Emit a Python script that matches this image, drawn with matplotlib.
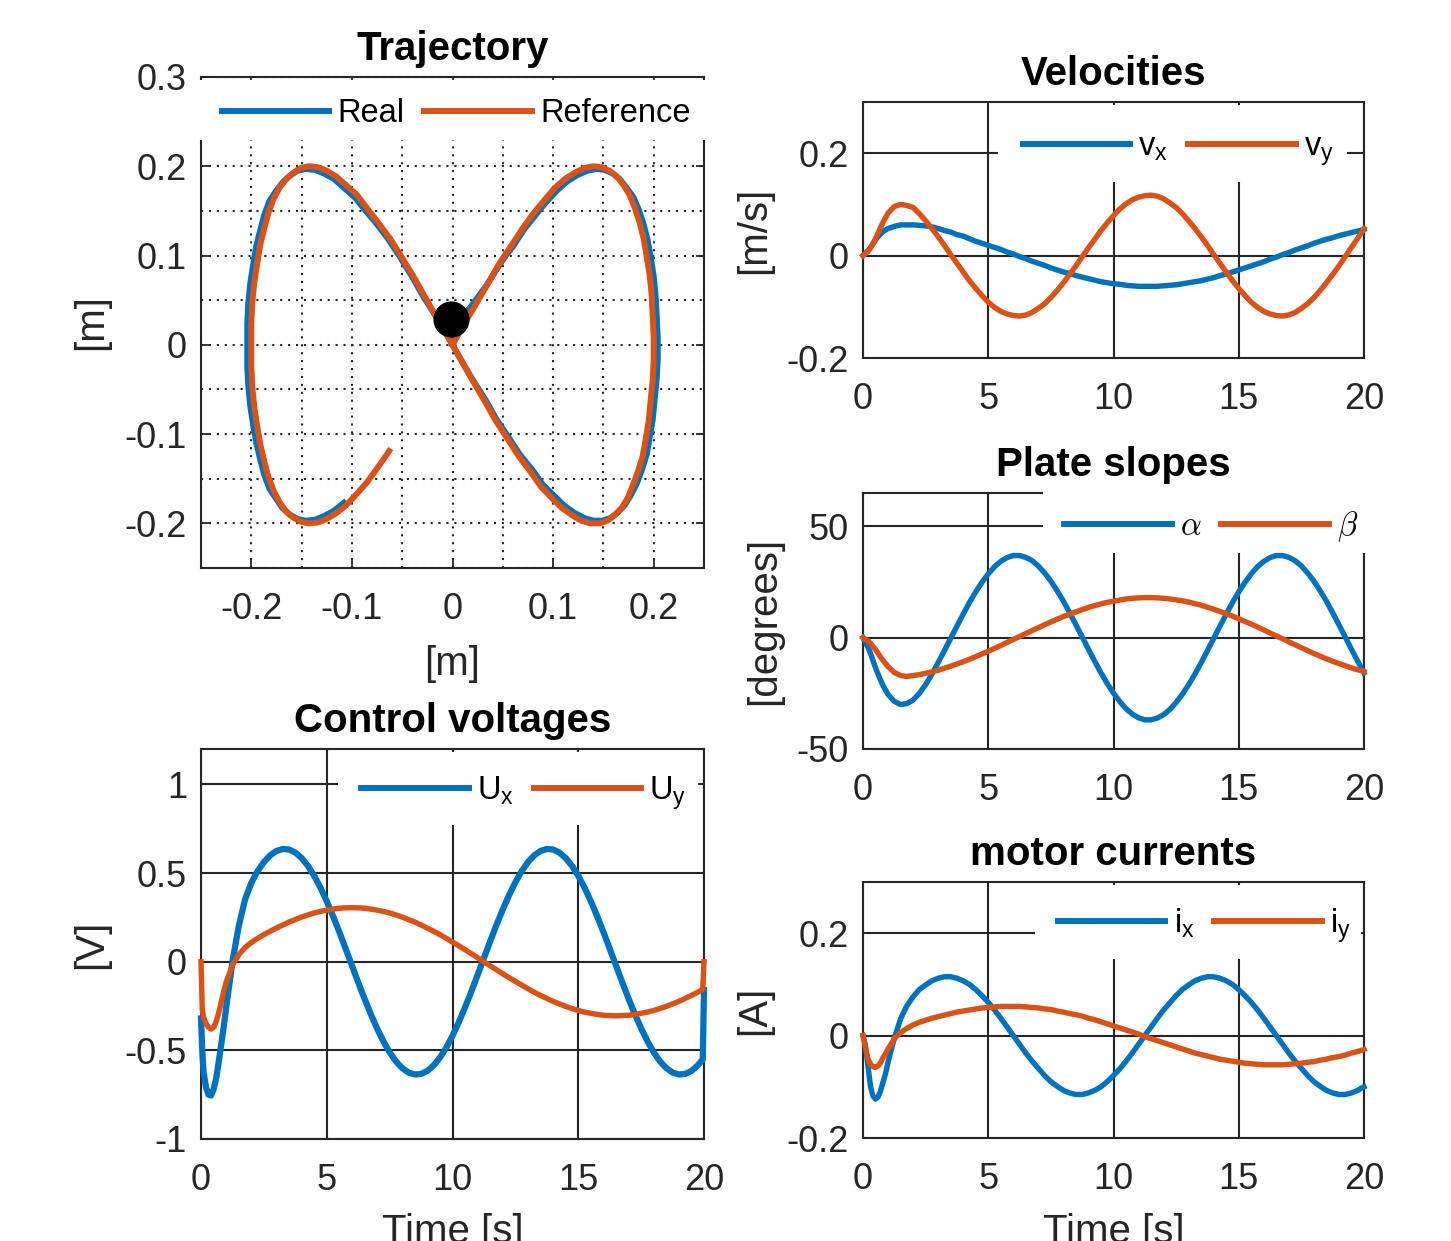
import numpy as np
import matplotlib
matplotlib.use('Agg')
import matplotlib.pyplot as plt
from matplotlib.patches import Rectangle
from matplotlib.ticker import MultipleLocator

plt.rcParams['font.family'] = ['Liberation Sans', 'DejaVu Sans']
plt.rcParams['mathtext.fontset'] = 'custom'
plt.rcParams['mathtext.rm'] = 'Liberation Sans'
plt.rcParams['mathtext.it'] = 'Liberation Sans:italic'
plt.rcParams['axes.unicode_minus'] = False

# ---------------- data ----------------
# time axis [s] shared by the four time plots
t = [0, 0.05, 0.1, 0.2, 0.3, 0.4, 0.5, 0.6, 0.7, 0.8, 0.9, 1.0,
     1.25, 1.5, 1.75, 2.0, 2.25, 2.5, 2.75, 3.0, 3.25, 3.5, 3.75, 4.0, 4.25, 4.5, 4.75, 5.0,
     5.25, 5.5, 5.75, 6.0, 6.25, 6.5, 6.75, 7.0, 7.25, 7.5, 7.75, 8.0, 8.25, 8.5, 8.75, 9.0,
     9.25, 9.5, 9.75, 10.0, 10.25, 10.5, 10.75, 11.0, 11.25, 11.5, 11.75, 12.0, 12.25, 12.5, 12.75, 13.0,
     13.25, 13.5, 13.75, 14.0, 14.25, 14.5, 14.75, 15.0, 15.25, 15.5, 15.75, 16.0, 16.25, 16.5, 16.75, 17.0,
     17.25, 17.5, 17.75, 18.0, 18.25, 18.5, 18.75, 19.0, 19.25, 19.5, 19.75, 19.95, 20.0]

# velocities [m/s]
v_x = [0, 0.002, 0.005, 0.010, 0.016, 0.023, 0.031, 0.037, 0.042, 0.047, 0.050, 0.053,
       0.057, 0.060, 0.060, 0.060, 0.059, 0.058, 0.056, 0.053, 0.049, 0.046, 0.041, 0.038, 0.033, 0.028, 0.024, 0.020,
       0.016, 0.012, 0.007, 0.003, -0.002, -0.006, -0.011, -0.015, -0.019, -0.024, -0.028, -0.032, -0.035, -0.039, -0.042, -0.045,
       -0.048, -0.051, -0.053, -0.055, -0.056, -0.058, -0.059, -0.060, -0.060, -0.060, -0.060, -0.059, -0.058, -0.057, -0.055, -0.053,
       -0.051, -0.049, -0.046, -0.043, -0.039, -0.036, -0.032, -0.028, -0.024, -0.020, -0.016, -0.012, -0.007, -0.003, 0.002, 0.006,
       0.011, 0.015, 0.019, 0.024, 0.028, 0.032, 0.035, 0.039, 0.042, 0.045, 0.048, 0.050, 0.051]
v_y = [0, 0.002, 0.004, 0.008, 0.015, 0.024, 0.033, 0.044, 0.055, 0.065, 0.074, 0.083,
       0.096, 0.100, 0.098, 0.094, 0.082, 0.068, 0.053, 0.037, 0.020, 0.002, -0.015, -0.032, -0.049, -0.064, -0.078, -0.091,
       -0.101, -0.109, -0.114, -0.117, -0.118, -0.116, -0.111, -0.103, -0.094, -0.082, -0.068, -0.053, -0.037, -0.020, -0.002, 0.015,
       0.032, 0.049, 0.064, 0.078, 0.091, 0.101, 0.109, 0.114, 0.117, 0.118, 0.116, 0.111, 0.103, 0.094, 0.082, 0.068,
       0.053, 0.037, 0.020, 0.002, -0.015, -0.032, -0.049, -0.064, -0.078, -0.091, -0.101, -0.109, -0.114, -0.117, -0.118, -0.116,
       -0.111, -0.103, -0.094, -0.082, -0.068, -0.053, -0.037, -0.020, -0.002, 0.016, 0.034, 0.049, 0.053]

# plate slopes [degrees]
alpha = [0, -1.0, -2.0, -4.3, -7.1, -10.3, -13.5, -16.3, -19.1, -21.5, -23.5, -25.5,
         -28.6, -30.0, -29.6, -28.0, -25.0, -21.1, -16.4, -11.2, -5.8, -0.3, 5.2, 10.6, 15.8, 20.6, 24.9, 28.7,
         31.9, 34.3, 36.0, 36.9, 36.9, 36.1, 34.6, 32.2, 29.1, 25.4, 21.1, 16.4, 11.2, 5.8, 0.3, -5.2,
         -10.6, -15.8, -20.6, -24.9, -28.7, -31.9, -34.3, -36.0, -36.9, -36.9, -36.1, -34.6, -32.2, -29.1, -25.4, -21.1,
         -16.4, -11.2, -5.8, -0.3, 5.2, 10.6, 15.8, 20.6, 24.9, 28.7, 31.9, 34.3, 36.0, 36.9, 36.9, 36.1,
         34.6, 32.2, 29.1, 25.4, 21.1, 16.4, 11.2, 5.8, 0.3, -5.2, -10.6, -14.7, -15.8]
beta = [0, -0.4, -0.7, -1.4, -2.5, -3.9, -5.3, -7.0, -8.7, -10.2, -11.6, -13.0,
        -15.6, -17.0, -17.4, -17.0, -16.6, -16.0, -15.3, -14.6, -13.7, -12.8, -11.8, -10.8, -9.7, -8.5, -7.3, -6.1,
        -4.8, -3.5, -2.1, -0.8, 0.5, 1.9, 3.2, 4.5, 5.8, 7.1, 8.3, 9.5, 10.6, 11.6, 12.6, 13.6,
        14.4, 15.2, 15.9, 16.4, 16.9, 17.4, 17.7, 17.9, 18.0, 18.0, 17.9, 17.7, 17.4, 17.0, 16.6, 16.0,
        15.3, 14.6, 13.7, 12.8, 11.8, 10.8, 9.7, 8.5, 7.3, 6.1, 4.8, 3.5, 2.1, 0.8, -0.5, -1.9,
        -3.2, -4.5, -5.8, -7.1, -8.3, -9.5, -10.6, -11.6, -12.6, -13.6, -14.4, -15.0, -15.2]

# control voltages [V]
U_x = [-0.320, -0.500, -0.620, -0.710, -0.750, -0.755, -0.720, -0.660, -0.570, -0.470, -0.370, -0.260,
       0.000, 0.200, 0.350, 0.445, 0.511, 0.562, 0.600, 0.625, 0.636, 0.633, 0.616, 0.585, 0.541, 0.485, 0.418, 0.341,
       0.257, 0.168, 0.074, -0.021, -0.116, -0.208, -0.295, -0.376, -0.448, -0.511, -0.562, -0.600, -0.625, -0.636, -0.633, -0.616,
       -0.585, -0.541, -0.485, -0.418, -0.341, -0.257, -0.168, -0.074, 0.021, 0.116, 0.208, 0.295, 0.376, 0.448, 0.511, 0.562,
       0.600, 0.625, 0.636, 0.633, 0.616, 0.585, 0.541, 0.485, 0.418, 0.341, 0.257, 0.168, 0.074, -0.021, -0.116, -0.208,
       -0.295, -0.376, -0.448, -0.511, -0.562, -0.600, -0.625, -0.636, -0.633, -0.616, -0.585, -0.551, -0.160]
U_y = [0.000, -0.270, -0.310, -0.350, -0.370, -0.380, -0.370, -0.340, -0.290, -0.230, -0.170, -0.115,
       -0.020, 0.040, 0.080, 0.108, 0.132, 0.153, 0.172, 0.190, 0.207, 0.224, 0.238, 0.252, 0.264, 0.275, 0.284, 0.291,
       0.297, 0.302, 0.304, 0.305, 0.304, 0.302, 0.297, 0.291, 0.284, 0.275, 0.264, 0.252, 0.238, 0.224, 0.207, 0.190,
       0.172, 0.153, 0.132, 0.111, 0.090, 0.068, 0.045, 0.023, 0.000, -0.023, -0.045, -0.068, -0.090, -0.111, -0.132, -0.152,
       -0.172, -0.190, -0.207, -0.224, -0.238, -0.252, -0.264, -0.275, -0.284, -0.291, -0.297, -0.302, -0.304, -0.305, -0.304, -0.302,
       -0.297, -0.291, -0.284, -0.275, -0.264, -0.252, -0.238, -0.224, -0.207, -0.190, -0.172, -0.156, 0.000]

# motor currents [A]
i_x = [0.000, -0.010, -0.020, -0.060, -0.100, -0.118, -0.124, -0.120, -0.108, -0.091, -0.074, -0.052,
       -0.005, 0.033, 0.058, 0.076, 0.090, 0.099, 0.107, 0.112, 0.115, 0.115, 0.112, 0.107, 0.100, 0.090, 0.078, 0.065,
       0.050, 0.034, 0.017, 0.000, -0.017, -0.034, -0.050, -0.064, -0.078, -0.090, -0.099, -0.107, -0.112, -0.115, -0.115, -0.112,
       -0.107, -0.100, -0.090, -0.078, -0.065, -0.050, -0.034, -0.017, 0.000, 0.017, 0.034, 0.050, 0.064, 0.078, 0.090, 0.099,
       0.107, 0.112, 0.115, 0.115, 0.112, 0.107, 0.100, 0.090, 0.078, 0.065, 0.050, 0.034, 0.017, 0.000, -0.017, -0.034,
       -0.050, -0.064, -0.078, -0.090, -0.099, -0.107, -0.112, -0.115, -0.115, -0.112, -0.107, -0.101, -0.100]
i_y = [0.000, -0.012, -0.025, -0.045, -0.056, -0.061, -0.062, -0.059, -0.053, -0.043, -0.035, -0.026,
       -0.006, 0.006, 0.014, 0.021, 0.026, 0.030, 0.034, 0.037, 0.040, 0.043, 0.046, 0.048, 0.050, 0.052, 0.054, 0.055,
       0.056, 0.057, 0.057, 0.057, 0.057, 0.056, 0.055, 0.054, 0.052, 0.051, 0.048, 0.046, 0.043, 0.041, 0.038, 0.034,
       0.031, 0.027, 0.023, 0.019, 0.015, 0.011, 0.007, 0.003, -0.002, -0.006, -0.010, -0.014, -0.018, -0.022, -0.026, -0.030,
       -0.034, -0.037, -0.040, -0.043, -0.046, -0.048, -0.050, -0.052, -0.054, -0.055, -0.056, -0.057, -0.057, -0.057, -0.057, -0.056,
       -0.055, -0.054, -0.052, -0.051, -0.048, -0.046, -0.043, -0.041, -0.038, -0.034, -0.031, -0.028, -0.027]

# trajectory [m]: reference path and measured (real) path, 0.2 s apart
ref_x = [0, 0.012, 0.024, 0.036, 0.047, 0.059, 0.070, 0.081, 0.092, 0.102, 0.112, 0.122, 0.131, 0.140, 0.148,
         0.156, 0.163, 0.170, 0.176, 0.181, 0.186, 0.190, 0.193, 0.196, 0.198, 0.199, 0.200, 0.200, 0.199,
         0.197, 0.195, 0.192, 0.189, 0.184, 0.179, 0.174, 0.168, 0.161, 0.154, 0.146, 0.137, 0.128, 0.119, 0.109,
         0.099, 0.088, 0.078, 0.066, 0.055, 0.043, 0.032, 0.020, 0.008, -0.004, -0.016, -0.028, -0.039, -0.051,
         -0.062, -0.074, -0.085,
         -0.095, -0.106, -0.116, -0.125, -0.134, -0.143, -0.151, -0.158, -0.165, -0.172, -0.178, -0.183, -0.187,
         -0.191, -0.194, -0.197, -0.199, -0.200, -0.200, -0.200, -0.199, -0.197, -0.194, -0.191,
         -0.187, -0.183, -0.178, -0.172, -0.166, -0.159, -0.151, -0.143, -0.134, -0.125, -0.116, -0.106, -0.096,
         -0.085, -0.074, -0.063]
ref_y = [0, 0.024, 0.047, 0.070, 0.092, 0.112, 0.131, 0.148, 0.163, 0.176, 0.186, 0.193, 0.198, 0.200, 0.199,
         0.195, 0.189, 0.179, 0.168, 0.154, 0.137, 0.119, 0.099, 0.078, 0.055, 0.032, 0.008, -0.016, -0.039, -0.062,
         -0.085, -0.106, -0.125, -0.143, -0.158, -0.172, -0.183, -0.191, -0.197, -0.200, -0.200, -0.197, -0.191,
         -0.183, -0.172, -0.159, -0.143, -0.125, -0.106, -0.085, -0.063, -0.040, -0.016, 0.008, 0.031, 0.055,
         0.077, 0.099, 0.119, 0.137, 0.153, 0.168, 0.179, 0.189, 0.195, 0.199, 0.200, 0.198, 0.193, 0.186, 0.176,
         0.163, 0.148, 0.131, 0.113, 0.092, 0.070, 0.048, 0.024, 0.000, -0.024, -0.047, -0.070, -0.092, -0.112,
         -0.131, -0.148,
         -0.163, -0.176, -0.186, -0.193, -0.198, -0.200, -0.199, -0.195, -0.189, -0.180, -0.168, -0.154, -0.137,
         -0.119]
real_x = [0, 0.001, 0.005, 0.010, 0.017, 0.025, 0.034, 0.043, 0.053,
          0.060, 0.071, 0.083, 0.094, 0.104, 0.114, 0.124, 0.134, 0.143, 0.151, 0.159, 0.166, 0.173, 0.180, 0.185,
          0.190, 0.194, 0.197, 0.200, 0.202, 0.203, 0.204, 0.204, 0.203, 0.201, 0.199, 0.196, 0.193, 0.188, 0.183,
          0.177, 0.171, 0.164, 0.157, 0.149, 0.140, 0.131, 0.121, 0.111, 0.101, 0.090, 0.080, 0.067, 0.056, 0.044,
          0.033, 0.020, 0.008, -0.004, -0.016, -0.029, -0.040, -0.052, -0.063, -0.075, -0.087, -0.097, -0.108,
          -0.118, -0.128, -0.137, -0.146, -0.154, -0.161, -0.168, -0.175, -0.182, -0.187, -0.191, -0.195, -0.198,
          -0.201, -0.203, -0.204, -0.204, -0.204, -0.203, -0.201, -0.198, -0.195, -0.191, -0.187, -0.182, -0.175,
          -0.169, -0.162, -0.154, -0.146, -0.137, -0.128, -0.118, -0.108]
real_y = [0.030, 0.029, 0.028, 0.032, 0.041, 0.053, 0.067, 0.083, 0.100,
          0.110, 0.129, 0.146, 0.161, 0.173, 0.183, 0.190, 0.195, 0.197, 0.196, 0.192, 0.186, 0.176, 0.165, 0.152,
          0.135, 0.117, 0.098, 0.077, 0.054, 0.032, 0.008, -0.016, -0.038, -0.061, -0.084, -0.104, -0.123, -0.141,
          -0.156, -0.169, -0.180, -0.188, -0.194, -0.197, -0.197, -0.194, -0.188, -0.180, -0.169, -0.157, -0.141,
          -0.123, -0.104, -0.084, -0.062, -0.039, -0.016, 0.008, 0.031, 0.054, 0.076, 0.098, 0.117, 0.135, 0.151,
          0.165, 0.176, 0.186, 0.192, 0.196, 0.197, 0.195, 0.190, 0.183, 0.173, 0.161, 0.146, 0.129, 0.111, 0.091,
          0.069, 0.047, 0.024, 0.000, -0.024, -0.046, -0.069, -0.091, -0.110, -0.129, -0.146, -0.161, -0.173,
          -0.183, -0.190, -0.195, -0.197, -0.196, -0.192, -0.186, -0.177]
ball_x = [-0.001]
ball_y = [0.029]

# ---------------- figure ----------------
BLUE = '#0072BD'; ORANGE = '#D95319'; DARK = '#262626'
W, H = 1451, 1241
fig = plt.figure(figsize=(W/100, H/100), dpi=100)

def add_ax(x0, y0, x1, y1):
    return fig.add_axes([x0/W, 1-y1/H, (x1-x0)/W, (y1-y0)/H])

TICK = 26; LAB = 29; TIT = 29; LEG = 23.5

def base(ax):
    for s in ax.spines.values():
        s.set_color(DARK); s.set_linewidth(1.5)
    ax.tick_params(which='major', direction='in', length=6, width=1.3, color=DARK,
                   labelcolor=DARK, labelsize=TICK, top=True, right=True)
    ax.tick_params(axis='x', pad=17)
    ax.tick_params(axis='y', pad=10)
    ax.tick_params(which='minor', length=0)

def cover(ax, x0, y0, x1, y1):
    ax.add_patch(Rectangle((x0, y0), x1-x0, y1-y0, transform=ax.transAxes,
                           facecolor='white', edgecolor='none', zorder=3, clip_on=False))

def leg(ax, hs, labels, cx, cy, cm=False):
    lg = ax.legend(hs, labels, loc='center', bbox_to_anchor=(cx, cy), ncol=2, frameon=False,
                   fontsize=LEG, handlelength=3.3, handletextpad=0.25, columnspacing=0.6,
                   borderpad=0, borderaxespad=0)
    lg.set_zorder(6)
    for h in lg.get_lines():
        h.set_linewidth(4.3)
    if cm:
        for tx in lg.get_texts():
            tx.set_math_fontfamily('cm')
    return lg

ax_tr = add_ax(201, 77, 704, 568)
ax_u = add_ax(201, 749, 704, 1139)
ax_v = add_ax(863, 102, 1364, 358)
ax_a = add_ax(863, 493, 1364, 749)
ax_i = add_ax(863, 882, 1364, 1138)

# Trajectory
ax = ax_tr
base(ax)
l1, = ax.plot(real_x, real_y, color=BLUE, lw=4.3, zorder=3.4, solid_joinstyle='round')
l2, = ax.plot(ref_x, ref_y, color=ORANGE, lw=4.3, zorder=3.5, solid_joinstyle='round')
ax.plot(ball_x, ball_y, 'o', color='k', ms=25, zorder=3.6)
ax.set_xlim(-0.25, 0.25); ax.set_ylim(-0.25, 0.3)
ax.set_xticks([-0.2, -0.1, 0, 0.1, 0.2]); ax.set_xticklabels(['-0.2', '-0.1', '0', '0.1', '0.2'])
ax.set_yticks([-0.2, -0.1, 0, 0.1, 0.2, 0.3]); ax.set_yticklabels(['-0.2', '-0.1', '0', '0.1', '0.2', '0.3'])
ax.xaxis.set_minor_locator(MultipleLocator(0.05)); ax.yaxis.set_minor_locator(MultipleLocator(0.05))
ax.grid(True, which='both', color=DARK, lw=1.5, linestyle=(0, (1, 2.8)))
ax.set_axisbelow(True)
ax.set_title('Trajectory', fontsize=TIT, fontweight='bold', pad=12.5)
ax.set_xlabel('[m]', fontsize=LAB, color=DARK); ax.xaxis.set_label_coords(0.5, -0.157)
ax.set_ylabel('[m]', fontsize=LAB, color=DARK); ax.yaxis.set_label_coords(-0.181, 0.5)
cover(ax, -0.006, 0.872, 1.006, 0.994)
leg(ax, [l1, l2], ['Real', 'Reference'], 0.507, 0.925)

def tplot(ax, y1, y2, ylim, yt, ytl, title, ylabel, cov, lc, xlabel=False, lw=3.9):
    base(ax)
    a, = ax.plot(t, y1, color=BLUE, lw=lw, zorder=3.5, clip_on=False, solid_joinstyle='round')
    b, = ax.plot(t, y2, color=ORANGE, lw=3.9, zorder=3.6, clip_on=False, solid_joinstyle='round')
    ax.set_xlim(0, 20); ax.set_ylim(*ylim)
    ax.set_xticks([0, 5, 10, 15, 20]); ax.set_xticklabels(['0', '5', '10', '15', '20'])
    ax.set_yticks(yt); ax.set_yticklabels(ytl)
    ax.grid(True, color=DARK, lw=1.5)
    ax.set_axisbelow(True)
    ax.set_title(title, fontsize=TIT, fontweight='bold', pad=12.5)
    ax.set_ylabel(ylabel, fontsize=LAB, color=DARK)
    ax.yaxis.set_label_coords(lc, 0.5)
    if xlabel:
        ax.set_xlabel('Time [s]', fontsize=LAB, color=DARK)
    cover(ax, *cov)
    return a, b

a, b = tplot(ax_v, v_x, v_y, (-0.2, 0.3), [-0.2, 0, 0.2], ['-0.2', '0', '0.2'], 'Velocities', '[m/s]',
             (0.2695, 0.6875, 0.9661, 0.988), -0.180)
leg(ax_v, [a, b], ['v$_\\mathrm{x}$', 'v$_\\mathrm{y}$'], 0.629, 0.813)

a, b = tplot(ax_a, alpha, beta, (-50, 65), [-50, 0, 50], ['-50', '0', '50'], 'Plate slopes', '[degrees]',
             (0.359, 0.766, 1.008, 1.016), -0.160)
leg(ax_a, [a, b], [r'$\alpha$', r'$\beta$'], 0.695, 0.867, cm=True)

a, b = tplot(ax_u, U_x, U_y, (-1, 1.2), [-1, -0.5, 0, 0.5, 1], ['-1', '-0.5', '0', '0.5', '1'],
             'Control voltages', '[V]', (0.2724, 0.805, 0.9881, 0.992), -0.181, xlabel=True, lw=4.5)
ax_u.xaxis.set_label_coords(0.5, -0.190)
leg(ax_u, [a, b], ['U$_\\mathrm{x}$', 'U$_\\mathrm{y}$'], 0.642, 0.887)

a, b = tplot(ax_i, i_x, i_y, (-0.2, 0.3), [-0.2, 0, 0.2], ['-0.2', '0', '0.2'], 'motor currents', '[A]',
             (0.343, 0.699, 0.994, 0.988), -0.180, xlabel=True)
ax_i.xaxis.set_label_coords(0.5, -0.293)
leg(ax_i, [a, b], ['i$_\\mathrm{x}$', 'i$_\\mathrm{y}$'], 0.681, 0.829)

fig.savefig('out.png', dpi=100)
